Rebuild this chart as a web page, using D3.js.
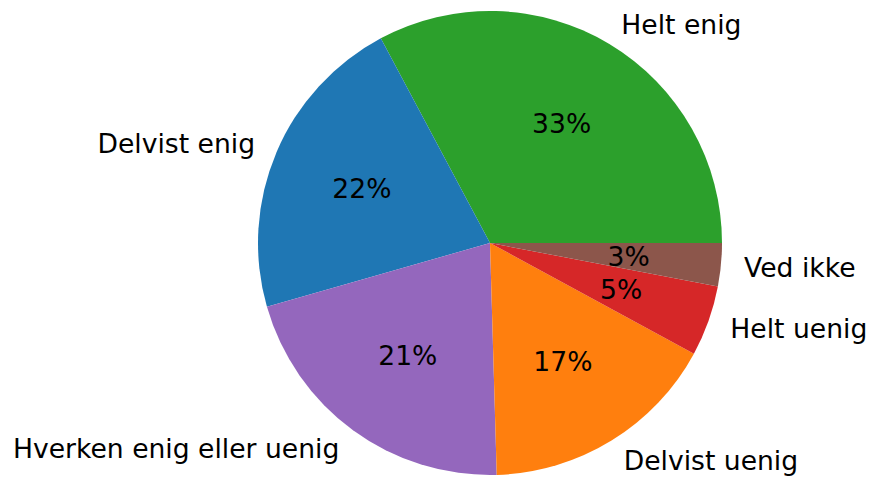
<!DOCTYPE html>
<html>
<head>
<meta charset="utf-8">
<script src="https://cdn.jsdelivr.net/npm/d3@7"></script>
<style>
    body { margin: 0; background: #fff; }
    text { font-family: "DejaVu Sans", sans-serif; }
</style>
</head>
<body>
<div id="wrapper"></div>
<script>
// answers, in drawing order (counterclockwise from 3 o'clock)
const categories = ["Helt enig", "Delvist enig", "Hverken enig eller uenig", "Delvist uenig", "Helt uenig", "Ved ikke"]
const shares = [32.75, 21.6, 21.0, 16.6, 4.9, 3.0]
const sliceColors = ["#2ca02c", "#1f77b4", "#9467bd", "#ff7f0e", "#d62728", "#8c564b"]

function drawPie() {
    let dimensions = {
        width: 873,
        height: 479,
        cx: 490,
        cy: 243,
        radius: 232,
    }

    const wrapper = d3.select("#wrapper")
        .append("svg")
            .attr("width", dimensions.width)
            .attr("height", dimensions.height)

    const bounds = wrapper.append("g")
        .attr("transform", `translate(${dimensions.cx}, ${dimensions.cy})`)

    const total = d3.sum(shares)
    const data = categories.map((c, i) => ({ label: c, value: shares[i], color: sliceColors[i] }))

    // matplotlib style: start at 3 o'clock, go counterclockwise
    const pieGenerator = d3.pie()
        .sort(null)
        .value(d => d.value)
        .startAngle(Math.PI / 2)
        .endAngle(Math.PI / 2 - 2 * Math.PI)

    const arcs = pieGenerator(data)

    const arcGenerator = d3.arc()
        .innerRadius(0)
        .outerRadius(dimensions.radius)

    const labelArc = d3.arc()
        .innerRadius(dimensions.radius * 1.1)
        .outerRadius(dimensions.radius * 1.1)

    const pctArc = d3.arc()
        .innerRadius(dimensions.radius * 0.6)
        .outerRadius(dimensions.radius * 0.6)

    bounds.selectAll("path")
        .data(arcs)
        .join("path")
            .attr("d", arcGenerator)
            .attr("fill", d => d.data.color)

    // category labels outside
    bounds.selectAll(".label")
        .data(arcs)
        .join("text")
            .attr("class", "label")
            .attr("x", d => labelArc.centroid(d)[0])
            .attr("y", d => labelArc.centroid(d)[1])
            .attr("text-anchor", d => labelArc.centroid(d)[0] > 0 ? "start" : "end")
            .attr("dominant-baseline", "central")
            .style("font-size", "26.6px")
            .attr("fill", "#000")
            .text(d => d.data.label)

    // percentages inside
    bounds.selectAll(".pct")
        .data(arcs)
        .join("text")
            .attr("class", "pct")
            .attr("x", d => pctArc.centroid(d)[0])
            .attr("y", d => pctArc.centroid(d)[1])
            .attr("text-anchor", "middle")
            .attr("dominant-baseline", "central")
            .style("font-size", "26.6px")
            .attr("fill", "#000")
            .text(d => Math.round(d.data.value / total * 100) + "%")
}

drawPie()
</script>
</body>
</html>
